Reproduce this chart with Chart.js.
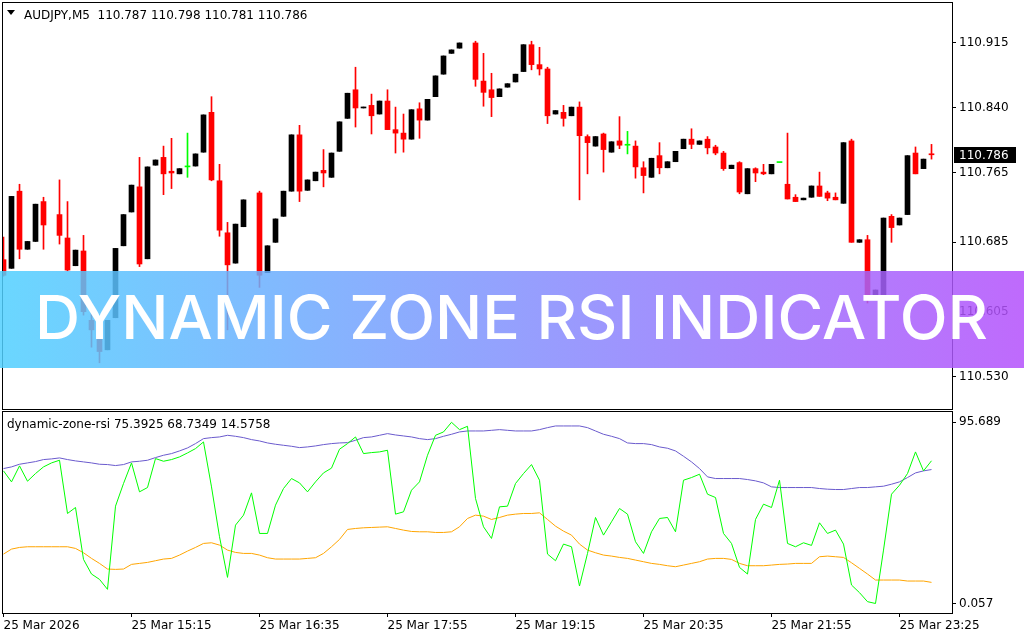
<!DOCTYPE html>
<html>
<head>
<meta charset="utf-8">
<script src="https://cdn.jsdelivr.net/npm/chart.js@4.4.1/dist/chart.umd.min.js"></script>
<style>
  html, body { margin: 0; padding: 0; background: #fff; }
  #wrap { position: relative; width: 1024px; height: 640px; overflow: hidden; font-family: "DejaVu Sans", sans-serif; }
  canvas { position: absolute; left: 0; }
  #price-canvas { top: 0; }
  #rsi-canvas { top: 410px; }
  .caption { position: absolute; font-size: 12px; line-height: 12px; color: #000; white-space: pre; }
  #price-caption { left: 24px; top: 9px; }
  #rsi-caption { left: 7px; top: 418px; }
  #arrow { position: absolute; left: 7px; top: 10px; width: 0; height: 0;
    border-left: 4.5px solid transparent; border-right: 4.5px solid transparent; border-top: 5px solid #000; }
  #banner { position: absolute; left: 0; top: 271px; width: 1024px; height: 97px;
    background: linear-gradient(90deg, #50d0ff, #b450fc); opacity: 0.85; }
  #banner-text { position: absolute; left: 35px; top: 287px; font-family: Inter, sans-serif; font-weight: 500;
    font-size: 61px; line-height: 61px; color: #fff; white-space: nowrap; transform-origin: 0 0; }
</style>
</head>
<body>
<div id="wrap">
  <canvas id="price-canvas" width="1024" height="410"></canvas>
  <canvas id="rsi-canvas" width="1024" height="230"></canvas>
  <div id="arrow"></div>
  <div id="price-caption" class="caption">AUDJPY,M5  110.787 110.798 110.781 110.786</div>
  <div id="rsi-caption" class="caption">dynamic-zone-rsi 75.3925 68.7349 14.5758</div>
  <div id="banner"></div>
  <div id="banner-text">DYNAMIC ZONE RSI INDICATOR</div>
</div>
<script>
// M5 candles, one slot per bar (null = bar not drawn)
const openP = [110.665,110.655,110.744,110.677,110.686,110.732,null,110.717,110.690,110.658,
  110.675,110.595,110.582,110.561,110.598,110.681,110.720,110.749,110.666,110.774,
  110.783,110.767,110.764,110.772,110.773,110.789,110.835,110.756,110.696,110.661,
  110.703,null,110.742,110.650,110.685,110.715,110.744,110.809,110.745,110.756,
  110.768,110.760,110.790,110.828,110.861,110.840,110.843,110.833,110.848,110.815,
  110.811,110.804,110.839,110.826,110.853,110.879,110.903,110.909,null,110.915,
  110.871,110.861,110.853,110.864,110.870,110.882,110.913,110.890,110.885,110.833,
  110.835,110.831,110.841,110.807,110.796,110.810,110.789,110.802,110.797,110.796,
  110.771,110.760,110.785,110.771,110.778,110.793,110.804,110.798,110.804,110.795,
  110.788,110.770,110.777,110.741,110.770,110.766,110.764,110.777,110.752,110.737,
  110.734,110.737,110.750,110.742,110.737,110.730,110.802,110.685,110.688,110.623,
  110.624,110.715,110.705,110.717,110.788,110.770,110.787];
const highP = [110.691,110.738,110.752,110.686,110.729,110.737,null,110.757,110.732,110.676,
  110.693,110.615,110.586,110.595,110.678,110.717,110.751,110.783,110.772,110.780,
  110.796,110.805,110.770,110.811,110.787,110.832,110.853,110.775,110.708,110.706,
  110.734,null,110.744,110.681,110.712,110.744,110.809,110.820,110.757,110.766,
  110.792,110.788,110.824,110.857,110.887,110.841,110.856,110.848,110.861,110.841,
  110.833,110.838,110.846,110.850,110.877,110.900,110.907,110.915,null,110.917,
  110.903,110.880,110.862,110.868,110.879,110.913,110.917,110.910,110.887,110.837,
  110.843,110.841,110.847,110.809,110.807,110.811,110.801,110.830,110.813,110.802,
  110.778,110.782,110.800,110.778,110.790,110.804,110.816,110.802,110.807,110.797,
  110.790,110.774,110.778,110.770,110.771,110.775,110.775,110.777,110.811,110.740,
  110.736,110.750,110.766,110.744,110.742,110.800,110.804,110.688,110.693,110.630,
  110.713,110.717,110.713,110.785,110.795,110.781,110.798];
const lowP = [110.646,110.655,110.666,110.677,110.686,110.677,null,110.683,110.652,110.658,
  110.601,110.564,110.546,110.561,110.598,110.681,110.720,110.657,110.666,110.774,
  110.740,110.747,110.764,110.760,110.773,110.789,110.756,110.692,110.584,110.661,
  110.703,null,110.633,110.650,110.685,110.715,110.744,110.732,110.745,110.756,
  110.749,110.760,110.790,110.828,110.818,110.840,110.810,110.833,110.815,110.788,
  110.789,110.804,110.805,110.826,110.853,110.879,110.903,110.909,null,110.865,
  110.842,110.830,110.853,110.864,110.870,110.882,110.884,110.878,110.822,110.833,
  110.819,110.831,110.734,110.764,110.796,110.766,110.789,110.793,110.787,110.759,
  110.742,110.760,110.764,110.771,110.778,110.793,110.793,110.798,110.787,110.786,
  110.768,110.770,110.741,110.741,110.755,110.763,110.764,110.777,110.735,110.732,
  110.734,110.737,110.738,110.733,110.734,110.730,110.685,110.685,110.615,110.623,
  110.624,110.685,110.705,110.717,110.764,110.770,110.781];
const closeP = [110.647,110.738,110.677,110.686,110.729,110.705,null,110.693,110.653,110.676,
  110.605,110.584,110.559,110.595,110.678,110.717,110.751,110.660,110.772,110.780,
  110.764,110.765,110.770,110.772,110.787,110.832,110.757,110.699,110.659,110.706,
  110.734,null,110.647,110.681,110.712,110.744,110.809,110.744,110.757,110.766,
  110.765,110.788,110.824,110.857,110.840,110.841,110.831,110.848,110.815,110.811,
  110.804,110.838,110.826,110.850,110.877,110.900,110.907,110.915,null,110.873,
  110.858,110.852,110.862,110.868,110.879,110.913,110.890,110.885,110.831,110.837,
  110.828,110.841,110.808,110.800,110.807,110.792,110.801,110.797,110.797,110.772,
  110.762,110.782,110.771,110.778,110.790,110.804,110.798,110.802,110.794,110.788,
  110.770,110.774,110.743,110.770,110.765,110.764,110.775,110.777,110.735,110.732,
  110.736,110.750,110.738,110.736,110.734,110.800,110.685,110.688,110.623,110.630,
  110.713,110.702,110.713,110.785,110.764,110.781,110.786];

// dynamic zone rsi buffers
const rsiLine = [70.05,64.25,72.68,64.60,68.64,72.15,74.26,75.67,47.57,50.73,
  23.33,15.60,12.79,7.52,51.43,63.37,74.26,58.98,61.27,76.55,
  75.14,76.02,77.42,79.53,81.81,85.33,61.60,35.30,13.84,41.42,
  46.69,58.45,37.03,37.03,51.96,60.74,66.01,63.72,58.98,64.25,
  68.99,71.50,81.50,84.45,87.96,79.18,79.71,80.06,80.94,47.22,
  48.44,59.86,64.25,78.30,88.84,90.60,95.69,91.82,93.58,55.47,
  40.54,34.39,51.08,51.43,63.37,68.64,73.38,65.13,26.14,22.63,
  31.41,30.00,9.28,26.49,45.46,36.15,43.17,50.20,47.22,32.64,
  26.49,37.90,44.93,45.46,37.90,65.13,66.53,68.29,57.75,56.00,
  37.03,31.76,19.11,15.60,44.41,52.48,50.73,65.13,31.76,30.00,
  32.11,30.71,42.65,37.03,38.78,31.41,9.81,5.77,1.02,0.06,
  28.25,57.75,62.49,68.64,80.06,70.05,75.39];
const upperBand = [71.28,72.15,73.56,74.26,74.96,76.02,76.37,76.90,76.02,75.32,
  74.79,74.26,73.56,73.38,72.86,73.38,74.79,75.14,75.67,77.07,
  78.30,79.18,80.58,82.17,84.45,87.08,87.61,87.96,88.84,88.31,
  87.61,86.56,85.85,84.80,84.10,83.57,83.04,82.34,82.69,83.22,
  83.92,84.45,84.80,84.97,86.20,87.61,87.96,88.84,89.72,89.01,
  88.49,87.96,87.08,86.56,87.08,88.31,89.37,90.60,91.12,91.12,
  91.12,91.47,91.82,91.47,91.12,91.12,91.12,91.82,92.88,93.76,
  93.76,93.76,93.76,92.88,91.12,89.37,88.31,87.08,84.80,84.45,
  84.45,83.92,82.69,82.00,80.58,77.77,74.79,71.28,66.89,66.01,
  66.01,66.01,66.01,65.48,64.78,63.72,61.62,61.26,61.26,61.26,
  61.26,61.26,60.74,60.39,60.21,60.21,60.74,61.26,61.26,61.62,
  61.97,63.02,64.25,66.53,68.99,70.05,70.75];
const lowerBand = [26.14,28.77,29.65,30.00,30.00,30.00,30.00,30.00,30.00,29.12,
  26.84,23.86,21.22,18.24,18.06,18.24,20.70,21.22,21.75,22.63,
  23.51,23.86,25.61,27.72,29.65,31.76,32.11,30.88,28.25,27.02,
  26.49,26.49,25.61,24.21,23.51,23.51,23.51,23.51,23.86,24.21,
  26.49,30.00,33.87,39.14,39.66,40.01,40.19,40.37,40.54,39.66,
  38.78,38.08,37.90,37.90,37.55,37.55,37.90,40.54,44.93,46.69,
  46.16,44.41,45.46,46.69,47.22,47.57,47.57,47.92,44.41,40.89,
  38.26,36.15,31.41,28.25,26.84,25.61,25.08,24.38,23.86,22.98,
  22.10,21.22,20.70,19.99,19.46,20.34,21.22,22.10,23.51,23.86,
  23.86,23.33,21.22,19.99,19.99,19.99,20.34,20.70,20.87,21.22,
  21.22,21.22,24.73,25.08,24.73,24.38,21.57,18.59,15.60,12.44,
  12.44,12.44,12.44,11.91,11.91,11.91,11.21];

const priceTicks = [110.915, 110.840, 110.765, 110.685, 110.605, 110.530];
const rsiTicks = [95.689, 0.057];
const timeTickBars = [0, 16, 32, 48, 64, 80, 96, 112];
const timeLabels = ["25 Mar 2026", "25 Mar 15:15", "25 Mar 16:35", "25 Mar 17:55",
  "25 Mar 19:15", "25 Mar 20:35", "25 Mar 21:55", "25 Mar 23:25"];

const AXIS_FONT = { family: "DejaVu Sans", size: 12 };
const lastClose = closeP[closeP.length - 1];

function candleColor(i) {
  if (closeP[i] > openP[i]) return "#000000";
  if (closeP[i] < openP[i]) return "#ff0000";
  return "#00ff00";
}

const bodies = [];
const wicks = [];
openP.forEach((o, i) => {
  if (o === null) return;
  bodies.push({ x: i, y: [o, closeP[i]] });
  wicks.push({ x: i, y: [lowP[i], highP[i]] });
});

// axis labels may hang past the plot edge, like the terminal does
function noLabelPadding(scale) {
  scale.paddingTop = 0;
  scale.paddingBottom = 0;
  scale.paddingLeft = 0;
  scale.paddingRight = 0;
}

const framePlugin = {
  id: "frame",
  afterDraw(chart) {
    const a = chart.chartArea;
    const ctx = chart.ctx;
    ctx.save();
    ctx.strokeStyle = "#000";
    ctx.lineWidth = 1;
    ctx.strokeRect(a.left - 0.5, a.top - 0.5, a.right - a.left + 1, a.bottom - a.top + 1);
    ctx.restore();
  }
};

const lastPricePlugin = {
  id: "lastPrice",
  afterDraw(chart) {
    const y = Math.round(chart.scales.y.getPixelForValue(lastClose));
    const ctx = chart.ctx;
    ctx.save();
    ctx.fillStyle = "#000";
    ctx.fillRect(chart.chartArea.right + 2, y - 8, 62, 16);
    ctx.fillStyle = "#fff";
    ctx.font = '12px "DejaVu Sans"';
    ctx.textBaseline = "middle";
    ctx.fillText(lastClose.toFixed(3), chart.chartArea.right + 7, y + 1);
    ctx.restore();
  }
};

const xRange = { min: -0.0625, max: 118.5625 };

new Chart(document.getElementById("price-canvas"), {
  type: "bar",
  data: {
    datasets: [
      {
        data: bodies,
        barThickness: 5,
        minBarLength: 1,
        grouped: false,
        clip: 0,
        borderWidth: 0,
        backgroundColor: (ctx) => (ctx.raw ? candleColor(ctx.raw.x) : "#000")
      },
      {
        data: wicks,
        barThickness: 1,
        grouped: false,
        clip: 0,
        borderWidth: 0,
        backgroundColor: (ctx) => (ctx.raw ? candleColor(ctx.raw.x) : "#000")
      }
    ]
  },
  options: {
    responsive: false,
    animation: false,
    layout: { padding: { left: 3, top: 3, right: 0, bottom: 1 } },
    plugins: { legend: { display: false }, tooltip: { enabled: false } },
    scales: {
      x: { type: "linear", display: false, offset: false, min: xRange.min, max: xRange.max },
      y: {
        position: "right",
        min: 110.4927,
        max: 110.9611,
        afterFit: (scale) => { scale.width = 72; noLabelPadding(scale); },
        afterBuildTicks: (scale) => { scale.ticks = priceTicks.map((v) => ({ value: v })); },
        ticks: { callback: (v) => Number(v).toFixed(3), color: "#000", font: AXIS_FONT, padding: 3 },
        grid: { drawOnChartArea: false, drawTicks: true, tickLength: 4, color: "#000" },
        border: { display: false }
      }
    }
  },
  plugins: [framePlugin, lastPricePlugin]
});

const lineStyle = { borderWidth: 1, pointRadius: 0, tension: 0, fill: false, clip: 0 };

new Chart(document.getElementById("rsi-canvas"), {
  type: "line",
  data: {
    datasets: [
      { ...lineStyle, data: rsiLine.map((v, i) => ({ x: i, y: v })), borderColor: "#00ff00" },
      { ...lineStyle, data: upperBand.map((v, i) => ({ x: i, y: v })), borderColor: "#6a5acd" },
      { ...lineStyle, data: lowerBand.map((v, i) => ({ x: i, y: v })), borderColor: "#ffa500" }
    ]
  },
  options: {
    responsive: false,
    animation: false,
    layout: { padding: { left: 3, top: 2, right: 0, bottom: 0 } },
    plugins: { legend: { display: false }, tooltip: { enabled: false } },
    scales: {
      x: {
        type: "linear",
        offset: false,
        min: xRange.min,
        max: xRange.max,
        afterFit: (scale) => { scale.height = 27; noLabelPadding(scale); },
        afterBuildTicks: (scale) => { scale.ticks = timeTickBars.map((v) => ({ value: v })); },
        ticks: {
          callback: (v, idx) => timeLabels[idx],
          align: "start",
          maxRotation: 0,
          autoSkip: false,
          color: "#000",
          font: AXIS_FONT,
          padding: 2
        },
        grid: { drawOnChartArea: false, drawTicks: true, tickLength: 4, color: "#000" },
        border: { display: false }
      },
      y: {
        position: "right",
        min: -4.96,
        max: 101.13,
        afterFit: (scale) => { scale.width = 72; noLabelPadding(scale); },
        afterBuildTicks: (scale) => { scale.ticks = rsiTicks.map((v) => ({ value: v })); },
        ticks: { callback: (v) => Number(v).toFixed(3), color: "#000", font: AXIS_FONT, padding: 3 },
        grid: { drawOnChartArea: false, drawTicks: true, tickLength: 4, color: "#000" },
        border: { display: false }
      }
    }
  },
  plugins: [framePlugin]
});

// stretch the banner title to span the same width as the original artwork
function fitBanner() {
  const el = document.getElementById("banner-text");
  el.style.transform = "none";
  const w = el.getBoundingClientRect().width;
  el.style.transform = "scaleX(" + (953 / w) + ")";
}
if (document.fonts && document.fonts.load) {
  document.fonts.load('500 61px Inter').then(fitBanner, fitBanner);
} else {
  fitBanner();
}
</script>
</body>
</html>
